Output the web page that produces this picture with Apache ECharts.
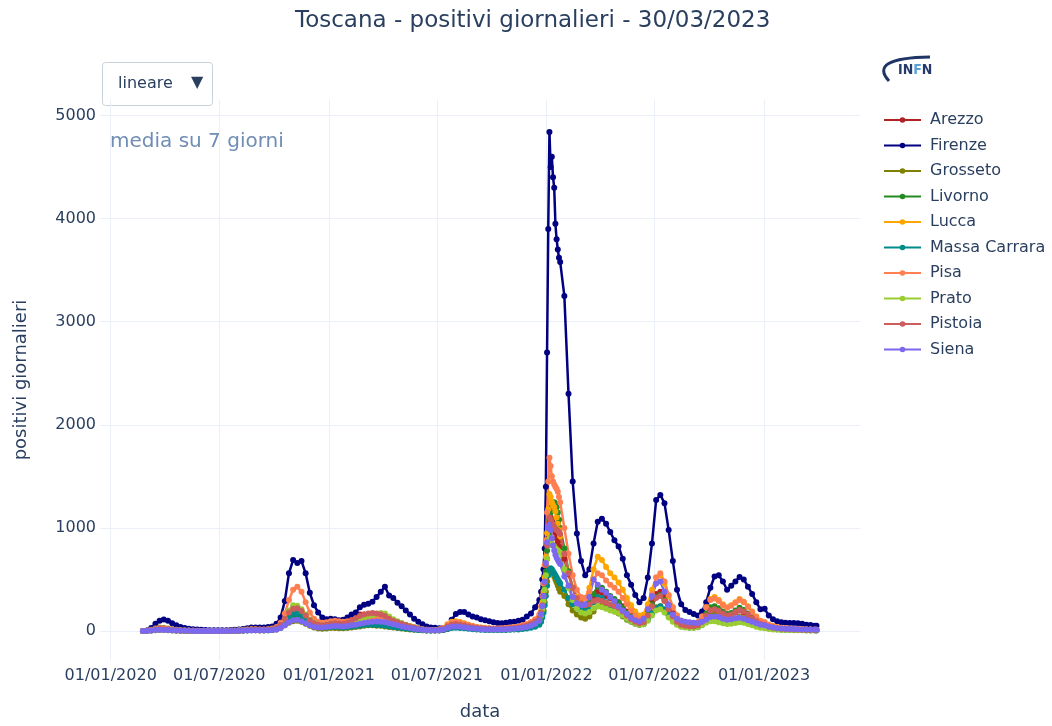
<!DOCTYPE html>
<html>
<head>
<meta charset="utf-8">
<title>Toscana - positivi giornalieri</title>
<script src="https://cdn.jsdelivr.net/npm/echarts@6/dist/echarts.min.js"></script>
<style>
html, body { margin: 0; padding: 0; background: #fff; }
#chart { width: 1052px; height: 726px; }
</style>
</head>
<body>
<div id="chart"></div>
<script>
// date grid: weekly, every 2 days around the Jan 2022 peak, then weekly again
function dateRange(start, stepDays, count) {
	let p = start.split('-').map(Number);
	let t0 = Date.UTC(p[0], p[1] - 1, p[2]);
	let out = [];
	for (let k = 0; k < count; k++) {
		out.push(new Date(t0 + k * stepDays * 86400000).toISOString().slice(0, 10));
	}
	return out;
}
const dates = [].concat(
	dateRange('2020-02-24', 7, 96),
	dateRange('2021-12-23', 2, 17),
	dateRange('2022-01-31', 7, 61),
	['2023-03-30']
);

const xTicks = ['2020-01-01', '2020-07-01', '2021-01-01', '2021-07-01', '2022-01-01', '2022-07-01', '2023-01-01'];
const yTicks = [0, 1000, 2000, 3000, 4000, 5000];

const provinces = ['Arezzo', 'Firenze', 'Grosseto', 'Livorno', 'Lucca', 'Massa Carrara', 'Pisa', 'Prato', 'Pistoia', 'Siena'];
const colors = ['#b22222', '#000080', '#808000', '#228b22', '#ffa500', '#008b8b', '#ff7f50', '#9acd32', '#cd5c5c', '#7b68ee'];

const arezzo = [
	0, 2, 8, 15, 20, 18, 14, 10, 7, 5,
	3, 2, 2, 1, 1, 1, 1, 1, 1, 1,
	1, 2, 2, 3, 5, 8, 10, 10, 9, 10,
	12, 15, 25, 50, 100, 150, 190, 200, 190, 150,
	110, 80, 60, 55, 60, 70, 75, 70, 65, 80,
	110, 140, 160, 160, 150, 140, 130, 120, 110, 95,
	85, 75, 65, 55, 45, 35, 25, 18, 12, 10,
	8, 8, 10, 20, 45, 60, 65, 60, 50, 40,
	35, 30, 25, 22, 20, 18, 20, 22, 25, 28,
	32, 40, 50, 65, 85, 110,
	150, 200, 260, 350, 500, 700, 900, 1050, 1100, 1080, 1050, 1000, 950, 900, 860, 820, 780,
	700, 550, 420, 320, 260, 230, 260, 330, 380, 370,
	340, 320, 300, 280, 240, 190, 150, 120, 100, 110,
	180, 270, 360, 380, 330, 250, 170, 110, 75, 60,
	55, 55, 65, 100, 160, 210, 220, 200, 170, 150,
	160, 180, 200, 180, 150, 120, 90, 70, 65, 45,
	35, 28, 24, 22, 20, 18, 16, 14, 12, 11, 10,
	10
];
const firenze = [
	0, 5, 30, 70, 100, 112, 100, 75, 55, 40,
	30, 22, 18, 15, 12, 10, 8, 8, 8, 8,
	8, 10, 12, 15, 20, 28, 35, 35, 33, 35,
	38, 45, 70, 130, 290, 560, 690, 660, 680, 560,
	370, 250, 180, 130, 115, 120, 115, 105, 110, 130,
	160, 180, 230, 255, 265, 285, 330, 380, 430, 345,
	320, 275, 240, 200, 160, 120, 90, 65, 45, 35,
	32, 28, 30, 42, 110, 165, 185, 185, 160, 140,
	130, 115, 105, 95, 85, 78, 75, 80, 88, 90,
	100, 110, 140, 170, 230, 300,
	380, 500, 600, 800, 1400, 2700, 3900, 4840, 4500, 4600, 4400, 4300, 3950, 3800, 3700, 3620, 3580,
	3250, 2300, 1450, 945, 680, 540, 600, 850, 1060, 1090,
	1040, 960, 880, 820, 700, 540, 450, 350, 280, 320,
	520, 850, 1270, 1320, 1240, 980, 680, 400, 260, 205,
	185, 165, 150, 190, 280, 420, 530, 540, 480, 400,
	440, 480, 525, 500, 430, 360, 280, 210, 215, 150,
	115, 95, 85, 80, 77, 77, 75, 70, 62, 58, 52,
	50
];
const grosseto = [
	0, 1, 4, 8, 10, 9, 7, 5, 3, 2,
	1, 1, 1, 0, 0, 0, 0, 0, 0, 0,
	0, 1, 2, 3, 5, 7, 8, 7, 6, 6,
	7, 9, 15, 30, 55, 80, 95, 100, 90, 70,
	50, 35, 25, 22, 25, 30, 30, 28, 26, 30,
	35, 40, 45, 50, 55, 55, 52, 50, 45, 40,
	35, 30, 25, 20, 15, 12, 9, 7, 5, 5,
	6, 8, 15, 35, 55, 60, 55, 45, 35, 28,
	22, 18, 15, 13, 12, 12, 13, 15, 17, 20,
	24, 30, 38, 48, 60, 80,
	110, 150, 200, 280, 380, 480, 560, 600, 600, 580, 560, 530, 500, 470, 440, 410, 380,
	340, 260, 200, 160, 130, 120, 140, 190, 240, 250,
	230, 210, 190, 170, 140, 110, 90, 70, 60, 70,
	120, 180, 230, 240, 200, 150, 100, 65, 45, 38,
	35, 35, 40, 65, 110, 150, 160, 140, 115, 100,
	105, 120, 135, 125, 105, 85, 65, 50, 45, 32,
	25, 20, 17, 15, 14, 13, 12, 10, 9, 8, 8,
	7
];
const livorno = [
	0, 2, 8, 15, 20, 18, 15, 12, 8, 6,
	4, 3, 2, 1, 1, 1, 1, 1, 1, 1,
	1, 2, 3, 5, 8, 12, 14, 12, 10, 10,
	12, 16, 28, 55, 100, 135, 150, 150, 135, 105,
	75, 55, 45, 45, 50, 60, 65, 60, 55, 60,
	70, 80, 90, 100, 105, 100, 95, 90, 80, 70,
	60, 50, 42, 35, 28, 22, 16, 12, 9, 8,
	9, 12, 22, 45, 65, 70, 65, 55, 45, 38,
	30, 25, 22, 20, 18, 18, 20, 22, 25, 28,
	32, 40, 50, 65, 85, 120,
	170, 230, 310, 420, 580, 780, 950, 1080, 1150, 1200, 1230, 1250, 1240, 1200, 1150, 1080, 1000,
	800, 580, 420, 310, 250, 230, 270, 360, 430, 420,
	380, 340, 310, 280, 230, 180, 140, 110, 90, 100,
	170, 260, 330, 350, 300, 220, 150, 95, 65, 55,
	50, 50, 60, 100, 170, 230, 240, 220, 190, 165,
	175, 200, 225, 205, 170, 135, 100, 75, 65, 48,
	38, 30, 25, 22, 20, 19, 17, 15, 13, 12, 11,
	10
];
const lucca = [
	0, 3, 12, 25, 35, 32, 25, 18, 12, 8,
	5, 4, 3, 2, 1, 1, 1, 1, 1, 1,
	1, 2, 3, 5, 8, 12, 15, 14, 12, 12,
	14, 18, 30, 60, 110, 160, 200, 210, 190, 150,
	105, 75, 60, 55, 60, 70, 72, 68, 62, 68,
	80, 90, 100, 110, 115, 112, 105, 95, 85, 75,
	65, 55, 45, 38, 30, 24, 18, 13, 10, 9,
	10, 14, 30, 65, 90, 95, 88, 75, 60, 48,
	38, 32, 28, 25, 23, 22, 24, 26, 30, 34,
	40, 50, 62, 80, 105, 140,
	200, 280, 380, 520, 720, 950, 1180, 1330, 1300, 1250, 1220, 1200, 1160, 1100, 1040, 980, 920,
	750, 560, 420, 330, 300, 320, 420, 600, 720, 690,
	620, 560, 520, 470, 400, 320, 250, 190, 150, 160,
	260, 400, 520, 540, 460, 340, 230, 150, 100, 80,
	72, 72, 85, 140, 230, 310, 330, 300, 260, 230,
	250, 280, 310, 285, 240, 190, 140, 100, 85, 62,
	48, 38, 32, 28, 25, 23, 21, 19, 17, 15, 14,
	13
];
const massa = [
	0, 2, 10, 22, 30, 28, 22, 16, 11, 8,
	5, 3, 2, 1, 1, 1, 0, 0, 0, 0,
	0, 1, 2, 3, 4, 6, 8, 8, 7, 7,
	8, 10, 18, 40, 80, 130, 165, 170, 150, 115,
	80, 55, 40, 35, 35, 38, 40, 38, 35, 38,
	42, 48, 52, 58, 60, 60, 58, 55, 50, 45,
	40, 35, 30, 25, 20, 15, 11, 8, 6, 5,
	5, 6, 10, 20, 30, 32, 30, 26, 22, 18,
	15, 13, 11, 10, 9, 9, 10, 11, 12, 14,
	16, 20, 25, 32, 42, 60,
	90, 130, 180, 250, 340, 440, 540, 600, 610, 600, 580, 560, 540, 520, 500, 480, 460,
	400, 320, 260, 220, 200, 200, 220, 280, 330, 320,
	280, 240, 210, 180, 150, 120, 95, 75, 60, 65,
	110, 170, 220, 240, 210, 160, 110, 70, 48, 38,
	34, 33, 38, 60, 95, 120, 125, 115, 100, 88,
	92, 100, 110, 100, 85, 70, 55, 42, 38, 28,
	22, 18, 15, 13, 12, 11, 10, 9, 8, 7, 7,
	6
];
const pisa = [
	0, 2, 10, 20, 28, 26, 20, 15, 10, 7,
	5, 3, 2, 2, 1, 1, 1, 1, 1, 1,
	1, 2, 3, 5, 9, 14, 18, 18, 16, 16,
	18, 24, 40, 80, 170, 300, 400, 430, 380, 280,
	180, 120, 90, 80, 85, 95, 100, 95, 90, 95,
	105, 115, 125, 135, 140, 138, 130, 120, 110, 98,
	85, 72, 60, 48, 38, 28, 20, 15, 11, 10,
	11, 15, 30, 60, 80, 85, 80, 70, 58, 48,
	40, 34, 30, 27, 25, 25, 27, 30, 34, 38,
	44, 55, 68, 88, 115, 160,
	240, 340, 460, 640, 880, 1150, 1450, 1680, 1600, 1500, 1450, 1420, 1400, 1380, 1350, 1300, 1250,
	1000, 750, 540, 400, 330, 320, 380, 500, 560, 540,
	490, 450, 420, 380, 320, 260, 200, 150, 120, 130,
	220, 360, 520, 560, 480, 350, 230, 150, 100, 80,
	72, 72, 85, 140, 230, 300, 315, 290, 250, 225,
	245, 275, 300, 280, 235, 185, 135, 98, 85, 60,
	46, 36, 30, 26, 23, 21, 19, 17, 15, 14, 13,
	12
];
const prato = [
	0, 1, 5, 10, 14, 13, 10, 8, 5, 4,
	3, 2, 1, 1, 1, 1, 1, 1, 1, 1,
	1, 2, 3, 5, 7, 10, 12, 12, 11, 11,
	13, 17, 30, 60, 120, 200, 250, 245, 210, 160,
	110, 80, 60, 55, 60, 70, 72, 70, 68, 75,
	85, 100, 115, 130, 145, 155, 165, 175, 170, 140,
	115, 95, 78, 62, 48, 35, 25, 18, 12, 9,
	9, 11, 20, 40, 55, 60, 55, 48, 40, 33,
	27, 23, 20, 18, 17, 17, 18, 20, 22, 25,
	29, 36, 45, 58, 75, 105,
	150, 210, 290, 400, 540, 700, 830, 900, 880, 850, 830, 820, 800, 790, 780, 770, 760,
	600, 420, 300, 220, 180, 170, 185, 220, 240, 230,
	215, 200, 190, 175, 150, 120, 95, 75, 60, 65,
	100, 150, 200, 210, 180, 130, 90, 60, 42, 35,
	32, 32, 36, 55, 80, 95, 95, 85, 75, 68,
	70, 78, 85, 80, 68, 55, 42, 32, 28, 20,
	16, 13, 11, 10, 9, 8, 8, 7, 6, 6, 5,
	5
];
const pistoia = [
	0, 2, 8, 15, 20, 18, 14, 10, 7, 5,
	3, 2, 2, 1, 1, 1, 1, 1, 1, 1,
	1, 2, 3, 4, 7, 10, 12, 12, 11, 11,
	13, 17, 30, 60, 120, 180, 215, 220, 195, 150,
	105, 75, 60, 55, 60, 70, 75, 72, 70, 80,
	100, 125, 145, 160, 170, 175, 170, 160, 145, 120,
	100, 85, 70, 58, 45, 34, 25, 18, 13, 10,
	10, 12, 22, 45, 62, 68, 62, 53, 44, 36,
	30, 26, 23, 21, 20, 20, 21, 23, 26, 30,
	35, 43, 54, 70, 92, 125,
	180, 250, 340, 470, 640, 830, 1000, 1100, 1080, 1050, 1030, 1010, 990, 980, 970, 960, 940,
	750, 560, 420, 320, 270, 250, 260, 290, 300, 290,
	275, 260, 245, 225, 190, 150, 115, 90, 75, 85,
	150, 240, 320, 340, 290, 210, 140, 90, 62, 50,
	46, 46, 55, 90, 150, 200, 210, 195, 170, 150,
	160, 185, 205, 190, 160, 125, 95, 70, 62, 45,
	35, 28, 23, 20, 18, 16, 15, 13, 12, 11, 10,
	10
];
const siena = [
	0, 1, 5, 10, 12, 11, 9, 7, 5, 4,
	3, 2, 1, 1, 1, 1, 0, 0, 0, 0,
	0, 1, 2, 3, 5, 7, 8, 8, 7, 7,
	8, 10, 16, 30, 55, 85, 105, 110, 95, 75,
	55, 42, 35, 35, 40, 45, 48, 46, 44, 48,
	55, 62, 70, 78, 85, 90, 92, 90, 85, 75,
	65, 55, 45, 37, 30, 23, 17, 12, 9, 7,
	7, 9, 15, 30, 42, 45, 42, 36, 30, 25,
	21, 18, 16, 15, 14, 14, 15, 17, 19, 22,
	26, 32, 40, 52, 70, 100,
	160, 240, 340, 480, 660, 860, 1000, 1030, 980, 900, 830, 780, 740, 710, 690, 670, 650,
	530, 440, 330, 270, 250, 260, 330, 500, 450, 400,
	370, 330, 290, 240, 200, 165, 130, 105, 92, 120,
	210, 340, 460, 480, 380, 250, 160, 120, 100, 90,
	85, 80, 78, 90, 110, 135, 140, 135, 120, 110,
	115, 125, 128, 120, 105, 90, 75, 60, 55, 42,
	34, 28, 24, 22, 20, 19, 18, 16, 15, 14, 13,
	12
];
const values = [arezzo, firenze, grosseto, livorno, lucca, massa, pisa, prato, pistoia, siena];

function localTime(s) {
	let p = s.split('-').map(Number);
	return new Date(p[0], p[1] - 1, p[2]).getTime();
}
function pad(n) {
	return (n < 10 ? '0' : '') + n;
}

const FONT = 'DejaVu Sans';
const TXT = '#2a3f5f';
const GRID = '#ebf0f8';

let chart = echarts.init(document.getElementById('chart'));
let option = {
	animation: false,
	backgroundColor: '#fff',
	title: {
		text: 'Toscana - positivi giornalieri - 30/03/2023',
		left: 290,
		top: 5,
		textStyle: {fontFamily: FONT, fontSize: 23, fontWeight: 'normal', color: TXT}
	},
	legend: {
		orient: 'vertical',
		left: 878,
		top: 107,
		itemWidth: 37,
		itemHeight: 7,
		itemGap: 9.5,
		data: provinces,
		textStyle: {fontFamily: FONT, fontSize: 16, color: TXT, padding: [0, 0, 0, 4]}
	},
	grid: {left: 100, right: 192, top: 100, bottom: 66, containLabel: false},
	// dates as plain timestamps on a linear axis so the tick positions can be fixed
	xAxis: {
		type: 'value',
		min: localTime('2019-12-14'),
		max: localTime('2023-06-11'),
		name: 'data',
		nameLocation: 'middle',
		nameGap: 43,
		nameTextStyle: {fontFamily: FONT, fontSize: 18, color: TXT},
		axisLine: {show: false},
		axisTick: {show: false, customValues: xTicks.map(localTime)},
		axisLabel: {
			customValues: xTicks.map(localTime),
			margin: 8,
			fontFamily: FONT, fontSize: 16, color: TXT,
			formatter: function (v) {
				let d = new Date(v);
				return pad(d.getDate()) + '/' + pad(d.getMonth() + 1) + '/' + d.getFullYear();
			}
		},
		splitLine: {show: true, lineStyle: {color: GRID, width: 1}}
	},
	yAxis: {
		type: 'value',
		min: -281,
		max: 5150,
		name: 'positivi giornalieri',
		nameLocation: 'middle',
		nameGap: 70,
		nameRotate: 90,
		nameTextStyle: {fontFamily: FONT, fontSize: 18, color: TXT},
		axisLine: {show: false},
		axisTick: {show: false, customValues: yTicks},
		axisLabel: {
			customValues: yTicks, margin: 4, fontFamily: FONT, fontSize: 16, color: TXT,
			formatter: v => String(v)
		},
		splitLine: {show: true, lineStyle: {color: GRID, width: 1}}
	},
	graphic: [
		{
			type: 'rect', left: 102, top: 62,
			shape: {width: 110, height: 43, r: 3},
			style: {fill: '#fff', stroke: '#c8d0da', lineWidth: 1}
		},
		{
			type: 'text', left: 118, top: 76,
			style: {text: 'lineare', font: '16px "DejaVu Sans"', fill: TXT}
		},
		{
			type: 'text', left: 191, top: 75,
			style: {text: '▼', font: '16px "DejaVu Sans"', fill: TXT}
		},
		{
			type: 'text', left: 110, top: 132,
			style: {text: 'media su 7 giorni', font: '20px "DejaVu Sans"', fill: '#6f8db5'}
		},
		{
			type: 'bezierCurve',
			shape: {x1: 889, y1: 81, cpx1: 868, cpy1: 58, x2: 930, y2: 57},
			style: {stroke: '#1f3566', lineWidth: 3, fill: null}
		},
		{
			type: 'text', left: 898, top: 63,
			style: {
				text: '{a|IN}{b|F}{a|N}',
				rich: {
					a: {font: 'bold 14px "DejaVu Sans Condensed"', fill: '#243a6b'},
					b: {font: 'bold 14px "DejaVu Sans Condensed"', fill: '#5aa0d8'}
				}
			}
		}
	],
	series: provinces.map((name, i) => ({
		name: name,
		type: 'line',
		data: dates.map((d, k) => [localTime(d), values[i][k]]),
		symbol: 'circle',
		symbolSize: 6,
		showAllSymbol: true,
		color: colors[i],
		lineStyle: {width: 2.5, color: colors[i]},
		itemStyle: {color: colors[i]},
		emphasis: {disabled: true}
	}))
};
chart.setOption(option);
window.addEventListener('resize', function () {
	chart.resize();
});
</script>
</body>
</html>
